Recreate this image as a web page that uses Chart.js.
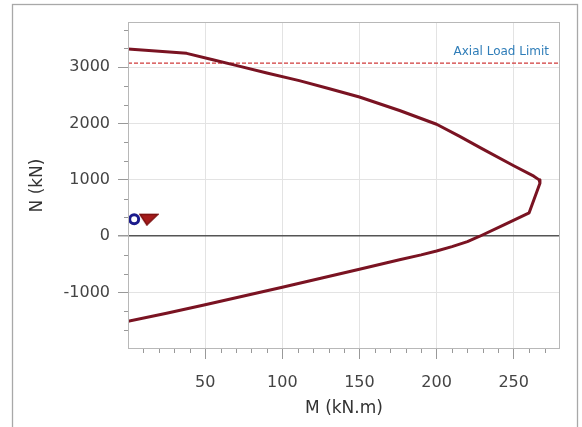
<!DOCTYPE html>
<html><head><meta charset="utf-8">
<script src="https://cdn.jsdelivr.net/npm/chart.js@4.4.1/dist/chart.umd.min.js"></script>
<style>html,body{margin:0;padding:0;background:#fff;}#wrap{width:582px;height:427px;position:relative;}</style>
</head><body><div id="wrap"><canvas id="c" width="582" height="427"></canvas></div>
<script>
// Interaction curve (M in kN.m, N in kN)
const curveM = [0, 38, 55, 70, 90, 111, 130, 150, 176, 200, 215, 230, 250, 263, 266.5, 267, 260, 244, 228, 220, 210, 200, 190, 176, 150, 125, 100, 75, 50, 25, 0];
const curveN = [3320, 3244, 3130, 3030, 2895, 2760, 2620, 2470, 2230, 1986, 1770, 1545, 1250, 1066, 1000, 940, 415, 207, 0, -95, -185, -262, -330, -416, -585, -745, -905, -1060, -1215, -1365, -1510];
// Demand points
const circleM = [4];
const circleN = [300];
const triM = [13.5];
const triN = [300];
// Axial load limit
const axialLimit = 3070;
const axialLabel = 'Axial Load Limit';
// Axes
const xRange = [0, 280];
const yRange = [-2000, 3800];
const xTicks = [50, 100, 150, 200, 250];
const yTicks = [-1000, 0, 1000, 2000, 3000];
const xMinorStep = 10;
const yMinorStep = 1000 / 3;
const xTitle = 'M (kN.m)';
const yTitle = 'N (kN)';

const FONT = 'DejaVu Sans';

// downward triangle marker image
const triImg = (() => {
  const c = document.createElement('canvas');
  c.width = 20; c.height = 13;
  const g = c.getContext('2d');
  g.beginPath();
  g.moveTo(1, 1.5); g.lineTo(19, 1.5); g.lineTo(8, 12); g.closePath();
  g.fillStyle = '#a51b1b'; g.fill();
  g.lineWidth = 1.5; g.strokeStyle = '#7d1010'; g.stroke();
  return c;
})();

const decor = {
  id: 'decor',
  beforeDraw(chart) {
    const ctx = chart.ctx;
    ctx.save();
    ctx.strokeStyle = '#a8a8a8';
    ctx.lineWidth = 1.3;
    ctx.strokeRect(12.5, 4.5, 565, 440);
    ctx.restore();
  },
  afterDraw(chart) {
    const ctx = chart.ctx, a = chart.chartArea;
    const xs = chart.scales.x, ys = chart.scales.y;
    ctx.save();
    ctx.strokeStyle = '#b8b8b8';
    ctx.lineWidth = 1;
    ctx.strokeRect(a.left + 0.5, a.top + 0.5, a.right - a.left - 1, a.bottom - a.top - 1);
    ctx.strokeStyle = '#999';
    ctx.beginPath();
    for (let v = xRange[0] + xMinorStep; v < xRange[1]; v += xMinorStep) {
      if (Math.abs(v % 50) < 1e-6) continue;
      const px = Math.round(xs.getPixelForValue(v)) + 0.5;
      ctx.moveTo(px, a.bottom); ctx.lineTo(px, a.bottom + 4);
    }
    for (let k = Math.ceil(yRange[0] / yMinorStep); k * yMinorStep < yRange[1]; k++) {
      if (k % 3 === 0) continue;
      const py = Math.round(ys.getPixelForValue(k * yMinorStep)) + 0.5;
      ctx.moveTo(a.left - 4, py); ctx.lineTo(a.left, py);
    }
    ctx.stroke();
    ctx.fillStyle = '#2f7db8';
    ctx.font = '12px "' + FONT + '"';
    ctx.textAlign = 'right';
    ctx.textBaseline = 'alphabetic';
    ctx.fillText(axialLabel, a.right - 11, ys.getPixelForValue(axialLimit) - 8);
    ctx.restore();
  }
};

const tickFont = { family: FONT, size: 16 };

new Chart(document.getElementById('c'), {
  type: 'scatter',
  data: {
    datasets: [
      {
        data: curveM.map((m, i) => ({ x: m, y: curveN[i] })),
        showLine: true, borderColor: '#7a1322', borderWidth: 3, pointRadius: 0,
        tension: 0, borderJoinStyle: 'round', borderCapStyle: 'round', order: 2
      },
      {
        data: [{ x: xRange[0], y: axialLimit }, { x: xRange[1], y: axialLimit }],
        showLine: true, borderColor: '#d03a3a', borderWidth: 1.2, borderDash: [4, 2],
        pointRadius: 0, order: 3
      },
      {
        data: triM.map((m, i) => ({ x: m, y: triN[i] })),
        pointStyle: triImg, pointRadius: 7, order: 1
      },
      {
        data: circleM.map((m, i) => ({ x: m, y: circleN[i] })),
        pointStyle: 'circle', pointRadius: 4.5,
        backgroundColor: 'rgba(255,255,255,0)', borderColor: '#1b1b8c', borderWidth: 3, order: 0
      }
    ]
  },
  options: {
    responsive: false, animation: false, devicePixelRatio: 1,
    layout: { padding: { left: 16, right: 22, top: 22, bottom: 4 } },
    plugins: { legend: { display: false }, tooltip: { enabled: false } },
    scales: {
      x: {
        type: 'linear', min: xRange[0], max: xRange[1],
        afterBuildTicks(s) { s.ticks = xTicks.map(v => ({ value: v })); },
        afterFit(s) { s.height = 74; },
        grid: { color: '#e3e3e3', lineWidth: 1, tickLength: 10, tickColor: '#999' },
        border: { display: false },
        ticks: { font: tickFont, color: '#444', padding: 14, maxRotation: 0, callback: v => String(v) },
        title: { display: true, text: xTitle, font: { family: FONT, size: 17 }, color: '#333', padding: { top: 4, bottom: 4 } }
      },
      y: {
        type: 'linear', min: yRange[0], max: yRange[1],
        afterBuildTicks(s) { s.ticks = yTicks.map(v => ({ value: v })); },
        afterFit(s) { s.width = 112; },
        grid: {
          color: c => c.tick && c.tick.value === 0 ? '#555' : '#e3e3e3',
          lineWidth: c => c.tick && c.tick.value === 0 ? 1.5 : 1,
          tickLength: 10, tickColor: '#999'
        },
        border: { display: false },
        ticks: { font: tickFont, color: '#444', padding: 8, callback: v => String(v) },
        title: { display: true, text: yTitle, font: { family: FONT, size: 17 }, color: '#333', padding: { top: 11, bottom: 0 } }
      }
    }
  },
  plugins: [decor]
});
</script></body></html>
